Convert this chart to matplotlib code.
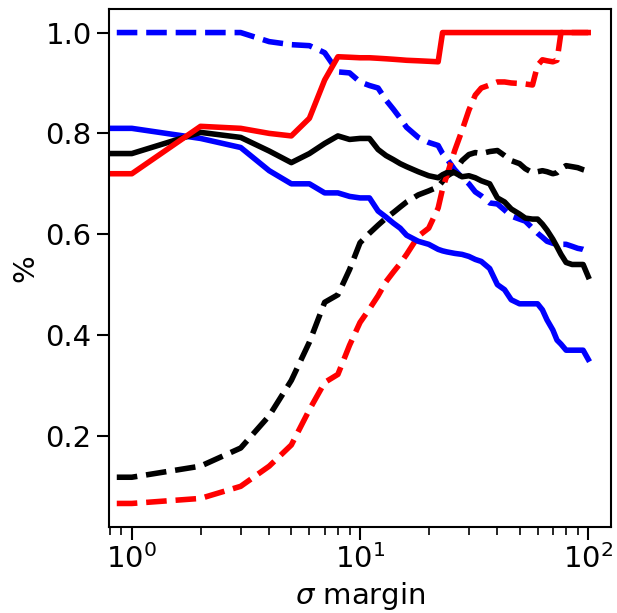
import matplotlib
matplotlib.use("Agg")
import matplotlib.pyplot as plt

# sigma margins (0 is drawn off to the left on the log axis)
sigma = [0, 1, 2, 3, 4, 5, 6, 7, 8, 9, 10, 11, 12, 13, 14, 15, 16, 18, 20, 22,
         23, 24, 26, 28, 30, 32, 34, 37, 40, 43, 46, 50, 53, 57, 60, 63, 66,
         70, 73, 76, 80, 85, 90, 95, 100]

red_solid = [0.72, 0.72, 0.814, 0.81, 0.80, 0.795, 0.83, 0.906, 0.952, 0.951,
             0.95, 0.95, 0.949, 0.948, 0.947, 0.946, 0.945, 0.944, 0.943, 0.942,
             1.0, 1.0, 1.0, 1.0, 1.0, 1.0, 1.0, 1.0, 1.0, 1.0, 1.0, 1.0, 1.0,
             1.0, 1.0, 1.0, 1.0, 1.0, 1.0, 1.0, 1.0, 1.0, 1.0, 1.0, 1.0]

red_dashed = [0.066, 0.066, 0.076, 0.10, 0.14, 0.182, 0.252, 0.306, 0.322, 0.38,
              0.425, 0.452, 0.478, 0.506, 0.525, 0.542, 0.56, 0.596, 0.612, 0.652,
              0.69, 0.716, 0.766, 0.806, 0.846, 0.876, 0.89, 0.896, 0.902, 0.902,
              0.90, 0.899, 0.898, 0.896, 0.935, 0.946, 0.944, 0.942, 0.945, 1.0,
              1.0, 1.0, 1.0, 1.0, 1.0]

blue_solid = [0.81, 0.81, 0.79, 0.772, 0.726, 0.70, 0.70, 0.682, 0.682, 0.675,
              0.672, 0.672, 0.646, 0.634, 0.622, 0.612, 0.598, 0.586, 0.58, 0.57,
              0.567, 0.565, 0.562, 0.56, 0.556, 0.55, 0.546, 0.532, 0.50, 0.49,
              0.47, 0.462, 0.462, 0.462, 0.462, 0.45, 0.43, 0.41, 0.39, 0.382,
              0.37, 0.37, 0.37, 0.37, 0.352]

blue_dashed = [1.0, 1.0, 1.0, 1.0, 0.982, 0.976, 0.974, 0.96, 0.922, 0.92,
               0.902, 0.895, 0.89, 0.866, 0.848, 0.83, 0.812, 0.792, 0.782, 0.776,
               0.76, 0.75, 0.728, 0.712, 0.70, 0.684, 0.676, 0.662, 0.66, 0.648,
               0.636, 0.63, 0.626, 0.612, 0.602, 0.594, 0.586, 0.582, 0.58, 0.58,
               0.58, 0.576, 0.572, 0.57, 0.566]

black_solid = [0.76, 0.76, 0.802, 0.792, 0.765, 0.742, 0.76, 0.78, 0.795, 0.788,
               0.79, 0.79, 0.768, 0.756, 0.748, 0.74, 0.734, 0.724, 0.716, 0.712,
               0.718, 0.722, 0.722, 0.714, 0.716, 0.712, 0.706, 0.70, 0.672, 0.664,
               0.65, 0.64, 0.632, 0.63, 0.63, 0.62, 0.608, 0.59, 0.575, 0.56,
               0.544, 0.54, 0.54, 0.54, 0.516]

black_dashed = [0.118, 0.118, 0.14, 0.176, 0.24, 0.31, 0.386, 0.465, 0.48, 0.53,
                0.583, 0.602, 0.618, 0.632, 0.643, 0.654, 0.664, 0.678, 0.686, 0.694,
                0.705, 0.715, 0.725, 0.746, 0.758, 0.762, 0.76, 0.764, 0.766, 0.756,
                0.746, 0.74, 0.73, 0.722, 0.724, 0.726, 0.724, 0.72, 0.722, 0.73,
                0.736, 0.734, 0.732, 0.728, 0.725]

plt.rcParams['font.size'] = 21
plt.rcParams['axes.linewidth'] = 1.5

fig = plt.figure(figsize=(6.17, 6.13), dpi=100)
ax = fig.add_axes([0.1767, 0.1403, 0.8136, 0.845])

lw = 4
ax.plot(sigma, blue_dashed, color='blue', ls='--', lw=lw)
ax.plot(sigma, black_dashed, color='black', ls='--', lw=lw)
ax.plot(sigma, red_dashed, color='red', ls='--', lw=lw)
ax.plot(sigma, blue_solid, color='blue', lw=lw)
ax.plot(sigma, black_solid, color='black', lw=lw)
ax.plot(sigma, red_solid, color='red', lw=lw)

ax.set_xscale('log')
ax.set_xlim(10 ** -0.1, 10 ** 2.1)
ax.set_yticks([0.2, 0.4, 0.6, 0.8, 1.0])
ax.tick_params(which='major', length=9, width=1.5, labelsize=21)
ax.tick_params(which='minor', length=6, width=1.2)
ax.set_xlabel(r'$\sigma$ margin', fontsize=21)
ax.set_ylabel('%', fontsize=21)

fig.savefig('out.png', dpi=100)
